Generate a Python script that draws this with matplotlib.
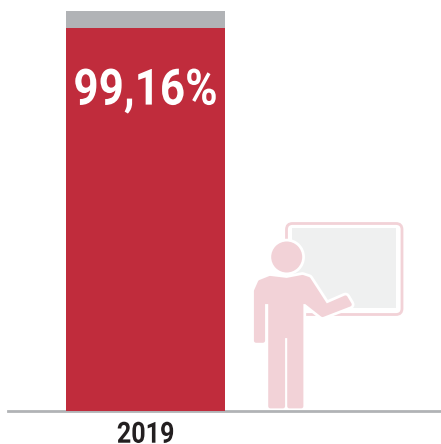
import matplotlib
matplotlib.use('Agg')
import matplotlib.pyplot as plt
from matplotlib.patches import Circle, FancyBboxPatch, Polygon
from matplotlib.patheffects import AbstractPathEffect
from matplotlib.transforms import Affine2D

years = ['2019']
# heights of the two stacked parts as drawn in the picture (% of the column)
red_part = [95.75]
grey_part = [4.25]
labels = ['99,16%']

RED = '#c02c3c'
GREY = '#b1b3b6'
PINK = '#f2d2d7'
BOARD = '#eff0f0'
FONT = ['Roboto', 'DejaVu Sans']


# no condensed font here, so squeeze the glyphs around the text's centre
class Squeeze(AbstractPathEffect):
    def __init__(self, factor, cx):
        super().__init__()
        self.factor = factor
        self.cx = cx

    def draw_path(self, renderer, gc, tpath, affine, rgbFace=None):
        squeeze = Affine2D().translate(-self.cx, 0).scale(self.factor, 1).translate(self.cx, 0)
        renderer.draw_path(gc, tpath, affine + squeeze, rgbFace)


W, H = 441, 444
fig = plt.figure(figsize=(W / 100, H / 100), dpi=100)

# icon layer, in picture pixels
icon = fig.add_axes([0, 0, 1, 1])
icon.set_xlim(0, W)
icon.set_ylim(H, 0)
icon.axis('off')

icon.add_patch(FancyBboxPatch((286.5, 223.5), 115.5, 91, boxstyle='round,pad=0,rounding_size=6',
                              fc='white', ec=PINK, lw=2))
icon.add_patch(plt.Rectangle((292, 228), 104, 80, fc=BOARD, ec='none'))

body = [(256, 291), (260, 282), (270, 278), (286.7, 280), (302.5, 277), (308.5, 279),
        (326, 306), (345.5, 297.5), (349.7, 304.5), (322.5, 315), (306, 302),
        (301.3, 302), (301.3, 406.3), (289.3, 406.3), (289.3, 336), (283, 336),
        (283, 406.3), (270.3, 406.3), (270.3, 302), (263, 302), (263, 340.7), (256, 340.7)]
icon.add_patch(Polygon(body, closed=True, fc='white', ec='white', lw=7, joinstyle='round'))
icon.add_patch(Circle((286.7, 257), 15.5, fc='white', ec='white', lw=4))
icon.add_patch(Polygon(body, closed=True, fc=PINK, ec=PINK, lw=3, joinstyle='round'))
icon.add_patch(Circle((286.7, 257), 15.5, fc=PINK, ec='none'))

# chart layer
ax = fig.add_axes([8 / W, 1 - 411 / H, (W - 8) / W, 400 / H])
ax.patch.set_alpha(0)
x = range(len(years))
ax.bar(x, red_part, width=1, color=RED, zorder=3)
ax.bar(x, grey_part, width=1, bottom=red_part, color=GREY, zorder=3)
ax.set_xlim(-0.865, 1.858)
ax.set_ylim(0, 100)
ax.set_xticks(list(x))
ax.set_xticklabels(years, family=FONT, fontweight='bold', fontsize=21, color='#231f20')
ax.tick_params(axis='x', length=0, pad=7)
ax.set_yticks([])
for s in ['top', 'left', 'right']:
    ax.spines[s].set_visible(False)
ax.spines['bottom'].set_color(GREY)
ax.spines['bottom'].set_linewidth(2)

cx = 146
for t in ax.get_xticklabels():
    t.set_path_effects([Squeeze(0.86, cx)])

for i, lab in zip(x, labels):
    ax.text(i, 76.6, lab, ha='center', va='baseline', family=FONT, fontweight='bold',
            fontsize=36, color='white', zorder=4, path_effects=[Squeeze(0.88, cx)])

fig.savefig('out.png', dpi=100)
